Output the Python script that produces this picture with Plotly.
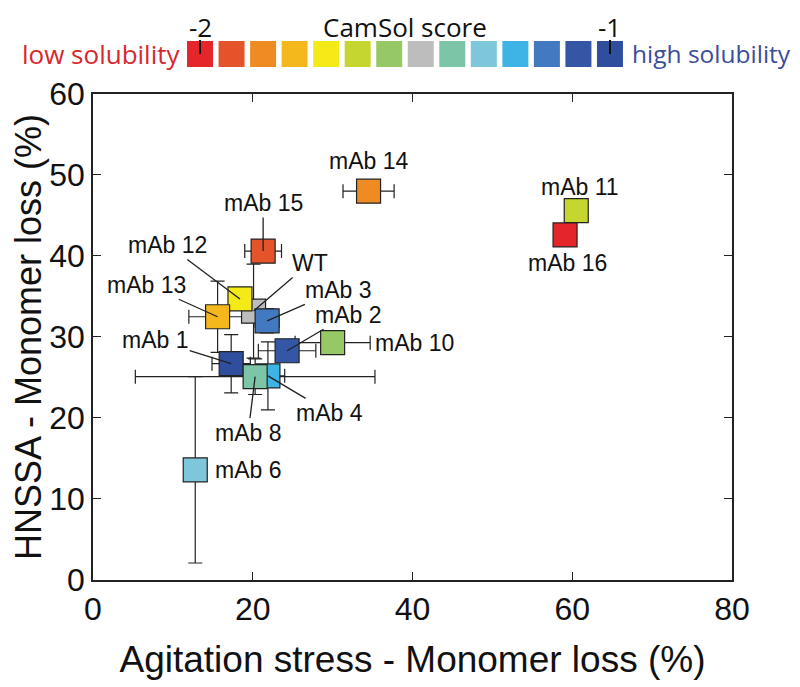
import plotly.graph_objects as go

# CamSol colour scale, low solubility (-2) -> high solubility (-1)
palette = ['#E4262A', '#E5532B', '#EE8B23', '#F4B81C', '#F4EA17', '#C5D631',
           '#96C866', '#BDBDBD', '#7CC5A7', '#7EC6DA', '#3EB4E6', '#4279C0',
           '#3556A5', '#2F4F9E']
scale_ticks = ['-2', '-1']

names = ['WT', 'mAb 1', 'mAb 2', 'mAb 3', 'mAb 4', 'mAb 6', 'mAb 8', 'mAb 10',
         'mAb 11', 'mAb 12', 'mAb 13', 'mAb 14', 'mAb 15', 'mAb 16']
agitation = [20.1, 17.3, 24.3, 21.8, 21.9, 12.8, 20.3, 30.0, 60.5, 18.4, 15.6, 34.5, 21.3, 59.1]
agitation_err = [1.0, 2.4, 3.6, 1.5, 2.1, 0.5, 15.0, 4.7, 0.0, 1.0, 3.6, 3.2, 2.3, 0.5]
hnssa = [33.2, 26.7, 28.3, 32.0, 25.2, 13.6, 25.1, 29.3, 45.6, 34.7, 32.5, 48.0, 40.6, 42.6]
hnssa_err = [5.8, 3.6, 1.0, 1.5, 4.2, 11.5, 2.2, 0.5, 0.0, 1.0, 4.4, 0.5, 1.0, 0.5]
camsol_rank = [7, 13, 12, 11, 10, 9, 8, 6, 5, 4, 3, 2, 1, 0]

# label placement (pixels)
leader = {'WT': (56, -48), 'mAb 12': (-72, -54), 'mAb 13': (-71, -32),
          'mAb 3': (71, -31), 'mAb 2': (61, -36), 'mAb 1': (-76, -24),
          'mAb 4': (62, 37), 'mAb 8': (-7, 56), 'mAb 15': (0, -48)}
plain = {'mAb 14': (0, 30, 'center'), 'mAb 11': (4, 24, 'center'),
         'mAb 16': (2, -28, 'center'), 'mAb 10': (40, 0, 'left'),
         'mAb 6': (18, 0, 'left')}

font = 'Arial, Liberation Sans, sans-serif'
head_font = 'Open Sans'
scale_idx = [0, len(palette) - 1]

fig = go.Figure()
fig.add_trace(go.Scatter(
    x=agitation, y=hnssa, mode='markers',
    error_x=dict(type='data', array=agitation_err, color='#222', thickness=1.2, width=7),
    error_y=dict(type='data', array=hnssa_err, color='#222', thickness=1.2, width=7),
    marker=dict(symbol='square', size=24, color=[palette[i] for i in camsol_rank],
                line=dict(color='#222', width=1.2)),
    showlegend=False))

# colour scale strip
fig.add_trace(go.Scatter(
    x=list(range(len(palette))), y=[0] * len(palette), mode='markers',
    marker=dict(symbol='square', size=26, color=palette, line=dict(width=0)),
    xaxis='x2', yaxis='y2', showlegend=False, hoverinfo='skip'))

for n, x, y in zip(names, agitation, hnssa):
    if n in leader:
        ax, ay = leader[n]
        fig.add_annotation(x=x, y=y, text=n, showarrow=True, arrowhead=0,
                           arrowwidth=1.3, arrowcolor='#222', ax=ax, ay=ay,
                           standoff=0, font=dict(size=23, color='#111', family=font))
    else:
        dx, dy, anchor = plain[n]
        fig.add_annotation(x=x, y=y, text=n, showarrow=False, xshift=dx, yshift=dy,
                           xanchor=anchor, font=dict(size=23, color='#111', family=font))

for i, t in zip(scale_idx, scale_ticks):
    fig.add_annotation(x=i, y=1, xref='x2', yref='paper', text=t, showarrow=False,
                       yanchor='top', borderpad=0,
                       font=dict(size=26, color='#111', family=head_font))

fig.add_annotation(x=-0.5, y=0, xref='x2', yref='y2', text='low solubility',
                   showarrow=False, xanchor='right', xshift=-1,
                   font=dict(size=26, color='#D7282E', family=head_font))
fig.add_annotation(x=len(palette) - 0.5, y=0, xref='x2', yref='y2', text='high solubility',
                   showarrow=False, xanchor='left', xshift=4,
                   font=dict(size=24.5, color='#3A4C9C', family=head_font))
fig.add_annotation(x=(len(palette) - 1) / 2, y=1, xref='x2', yref='paper',
                   yanchor='top', borderpad=0, text='CamSol score', showarrow=False,
                   font=dict(size=26, color='#111', family=head_font))

axis_style = dict(showline=True, linecolor='#222', linewidth=1.5, mirror='ticks',
                  ticks='inside', ticklen=8, tickcolor='#222', showgrid=False,
                  zeroline=False, automargin=False,
                  tickfont=dict(size=32, family=font, color='#111'))

fig.update_layout(
    template='none',
    width=800, height=687,
    margin=dict(l=85, r=76, t=0, b=115),
    paper_bgcolor='white', plot_bgcolor='white',
    xaxis=dict(range=[0, 80], dtick=20, domain=[0, 1],
               title=dict(text='Agitation stress - Monomer loss (%)',
                          font=dict(size=37, family=font, color='#111'), standoff=20),
               **axis_style),
    yaxis=dict(range=[0, 60], dtick=10, domain=[0, 0.8497],
               title=dict(text='HNSSA - Monomer loss (%)',
                          font=dict(size=36, family=font, color='#111'), standoff=10),
               **axis_style),
    xaxis2=dict(domain=[0.1428, 0.8337], range=[-0.5, len(palette) - 0.5], anchor='y2',
                side='top', showline=False, showgrid=False, zeroline=False,
                automargin=False, showticklabels=False,
                tickvals=scale_idx, ticks='inside', ticklen=14, tickwidth=1.5,
                tickcolor='#111'),
    yaxis2=dict(domain=[0.8951, 0.9441], range=[-1, 1], anchor='x2',
                visible=False, automargin=False),
)

fig.write_html("out.html")
